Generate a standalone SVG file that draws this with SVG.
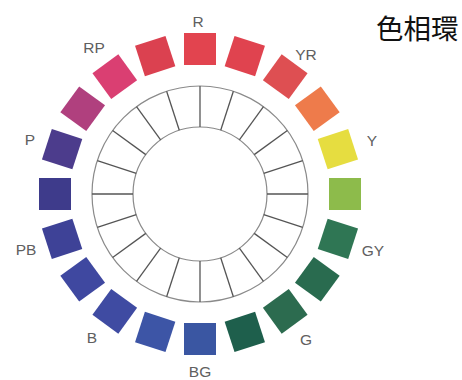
<svg xmlns="http://www.w3.org/2000/svg" width="462" height="380" viewBox="0 0 462 380">
<style>
.sq{stroke:none}
.lbl{font-family:"Liberation Sans",Arial,sans-serif;font-size:15.5px;fill:#606060}
.ttl{font-family:"Noto Sans CJK JP","Noto Sans CJK SC",sans-serif;font-size:27.5px;fill:#111}
.ring{fill:none;stroke:#8a8a8a;stroke-width:1.2}
.spoke{stroke:#555;stroke-width:1.3}
</style>
<defs>
<rect id="s" x="184" y="33" width="32" height="32"/>
<line id="sp" x1="200" y1="86" x2="200" y2="127"/>
</defs>
<rect width="462" height="380" fill="#fff"/>
<g id="ring">
<circle class="ring" cx="200" cy="194" r="108"/>
<circle class="ring" cx="200" cy="194" r="67"/>
<g class="spoke">
<use href="#sp"/>
<use href="#sp" transform="rotate(18 200 194)"/>
<use href="#sp" transform="rotate(36 200 194)"/>
<use href="#sp" transform="rotate(54 200 194)"/>
<use href="#sp" transform="rotate(72 200 194)"/>
<use href="#sp" transform="rotate(90 200 194)"/>
<use href="#sp" transform="rotate(108 200 194)"/>
<use href="#sp" transform="rotate(126 200 194)"/>
<use href="#sp" transform="rotate(144 200 194)"/>
<use href="#sp" transform="rotate(162 200 194)"/>
<use href="#sp" transform="rotate(180 200 194)"/>
<use href="#sp" transform="rotate(198 200 194)"/>
<use href="#sp" transform="rotate(216 200 194)"/>
<use href="#sp" transform="rotate(234 200 194)"/>
<use href="#sp" transform="rotate(252 200 194)"/>
<use href="#sp" transform="rotate(270 200 194)"/>
<use href="#sp" transform="rotate(288 200 194)"/>
<use href="#sp" transform="rotate(306 200 194)"/>
<use href="#sp" transform="rotate(324 200 194)"/>
<use href="#sp" transform="rotate(342 200 194)"/>
</g>
</g>
<g id="swatches">
<g id="h0"><use href="#s" fill="#e2444f"/></g>
<g id="h18"><use href="#s" fill="#e0434f" transform="rotate(18 200 194)"/></g>
<g id="h36"><use href="#s" fill="#de4f52" transform="rotate(36 200 194)"/></g>
<g id="h54"><use href="#s" fill="#ee7b4b" transform="rotate(54 200 194)"/></g>
<g id="h72"><use href="#s" fill="#e6dd40" transform="rotate(72 200 194)"/></g>
<g id="h90"><use href="#s" fill="#8dbb4b" transform="rotate(90 200 194)"/></g>
<g id="h108"><use href="#s" fill="#2f7654" transform="rotate(108 200 194)"/></g>
<g id="h126"><use href="#s" fill="#296b4f" transform="rotate(126 200 194)"/></g>
<g id="h144"><use href="#s" fill="#2c6b4f" transform="rotate(144 200 194)"/></g>
<g id="h162"><use href="#s" fill="#1e5f4c" transform="rotate(162 200 194)"/></g>
<g id="h180"><use href="#s" fill="#3a56a2" transform="rotate(180 200 194)"/></g>
<g id="h198"><use href="#s" fill="#3d55a6" transform="rotate(198 200 194)"/></g>
<g id="h216"><use href="#s" fill="#3f4ba2" transform="rotate(216 200 194)"/></g>
<g id="h234"><use href="#s" fill="#3f48a0" transform="rotate(234 200 194)"/></g>
<g id="h252"><use href="#s" fill="#3e4297" transform="rotate(252 200 194)"/></g>
<g id="h270"><use href="#s" fill="#3e3b8b" transform="rotate(270 200 194)"/></g>
<g id="h288"><use href="#s" fill="#4c3c8c" transform="rotate(288 200 194)"/></g>
<g id="h306"><use href="#s" fill="#b0407e" transform="rotate(306 200 194)"/></g>
<g id="h324"><use href="#s" fill="#da3f72" transform="rotate(324 200 194)"/></g>
<g id="h342"><use href="#s" fill="#db4150" transform="rotate(342 200 194)"/></g>
</g>
<g id="labels">
<text class="lbl" x="198" y="27" text-anchor="middle">R</text>
<text class="lbl" x="94" y="53" text-anchor="middle">RP</text>
<text class="lbl" x="30" y="145" text-anchor="middle">P</text>
<text class="lbl" x="26" y="255" text-anchor="middle">PB</text>
<text class="lbl" x="92" y="343" text-anchor="middle">B</text>
<text class="lbl" x="200" y="377" text-anchor="middle">BG</text>
<text class="lbl" x="306" y="345" text-anchor="middle">G</text>
<text class="lbl" x="373" y="256" text-anchor="middle">GY</text>
<text class="lbl" x="372" y="146" text-anchor="middle">Y</text>
<text class="lbl" x="306" y="60" text-anchor="middle">YR</text>
</g>
<g id="title">
<text class="ttl" x="376" y="39">色相環</text>
</g>
</svg>
